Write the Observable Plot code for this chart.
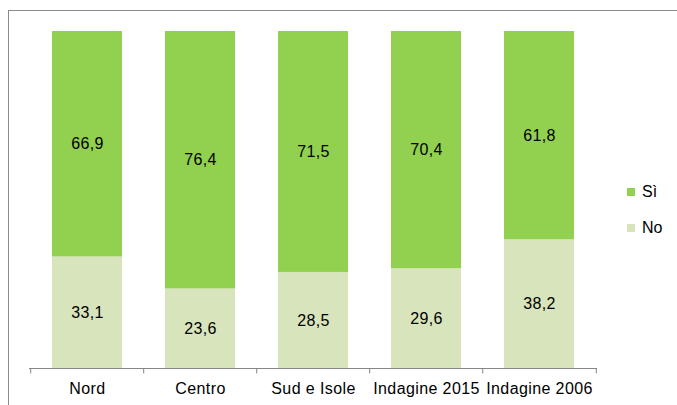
<!DOCTYPE html>
<html>
<head>
<meta charset="utf-8">
<script src="https://cdn.jsdelivr.net/npm/d3@7"></script>
<script src="https://cdn.jsdelivr.net/npm/@observablehq/plot@0.6"></script>
<style>
  html, body { margin: 0; padding: 0; background: #fff; overflow: hidden; width: 677px; height: 405px; }
  #wrap { position: relative; width: 677px; height: 405px; font-family: "Liberation Sans", Arial, sans-serif; }
  #frame { position: absolute; left: 8px; top: 10px; width: 720px; height: 460px; border: 1px solid #8c8c8c; box-sizing: border-box; pointer-events: none; }
  #chart { position: absolute; left: 0; top: 0; }
  #chart svg text { letter-spacing: 0.4px; }
  .leg { position: absolute; font-size: 16px; color: #000; display: flex; align-items: center; line-height: 18px; }
  .sw { width: 8px; height: 8px; margin-right: 7px; }
</style>
</head>
<body>
<div id="wrap">
  <div id="frame"></div>
  <div id="chart"></div>
  <div class="leg" style="left:627px; top:183px;"><span class="sw" style="background:#92D050"></span>Sì</div>
  <div class="leg" style="left:627px; top:219px;"><span class="sw" style="background:#D8E4BC"></span>No</div>
</div>
<script>
const categories = ["Nord", "Centro", "Sud e Isole", "Indagine 2015", "Indagine 2006"];
const series = ["No", "Sì"];
const valuesNo = [33.1, 23.6, 28.5, 29.6, 38.2];
const valuesSi = [66.9, 76.4, 71.5, 70.4, 61.8];
const colors = ["#D8E4BC", "#92D050"];

const data = [];
categories.forEach((c, i) => {
  data.push({cat: c, serie: "No", value: valuesNo[i]});
  data.push({cat: c, serie: "Sì", value: valuesSi[i]});
});
const fmt = v => v.toFixed(1).replace(".", ",");

const W = 677, ML = 29, MR = 80;
const halfStep = (W - ML - MR) / categories.length / 2;

const chart = Plot.plot({
  width: W,
  height: 405,
  marginTop: 31,
  marginBottom: 37,
  marginLeft: ML,
  marginRight: MR,
  style: {fontFamily: "'Liberation Sans', Arial, sans-serif", fontSize: "16px", background: "transparent"},
  x: {domain: categories, paddingInner: 0.384, paddingOuter: 0.192, label: null},
  y: {domain: [0, 100], axis: null},
  color: {domain: series, range: colors},
  marks: [
    Plot.barY(data, Plot.stackY({x: "cat", y: "value", fill: "serie", order: series})),
    Plot.text(data, Plot.stackY({x: "cat", y: "value", z: "serie", order: series, text: d => fmt(d.value), fill: "#000", fontSize: 16})),
    Plot.ruleY([0], {stroke: "#868686", strokeWidth: 1}),
    Plot.ruleX(categories, {x: d => d, y1: 0, y2: -1.6, stroke: "#868686", dx: -halfStep}),
    Plot.ruleX(categories.slice(-1), {x: d => d, y1: 0, y2: -1.6, stroke: "#868686", dx: halfStep}),
    Plot.axisX({tickSize: 0, tickPadding: 14, fontSize: 16, fill: "#000"})
  ]
});
document.getElementById("chart").appendChild(chart);
</script>
</body>
</html>
